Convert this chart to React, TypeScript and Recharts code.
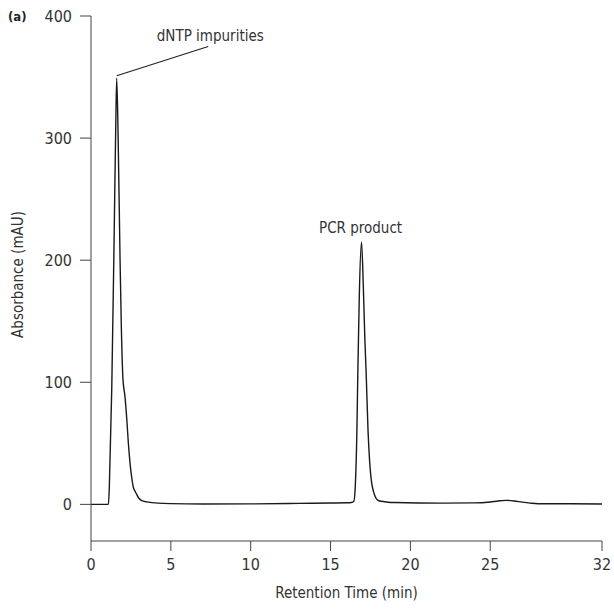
import { LineChart, Line, XAxis, YAxis, ReferenceLine, ReferenceDot, Label } from "recharts";

// retention time (min) and absorbance (mAU)
const times = [
  0, 0.5, 1.0, 1.09, 1.15, 1.3, 1.45, 1.55, 1.61, 1.7, 1.82, 1.9, 2.0, 2.13, 2.25, 2.34, 2.45, 2.55, 2.65, 2.75,
  2.87, 3.0, 3.18, 3.5, 4.0, 4.5, 5, 7, 10, 13, 15, 16, 16.3, 16.46, 16.55, 16.65, 16.71, 16.8, 16.94, 17.05,
  17.15, 17.23, 17.35, 17.45, 17.55, 17.7, 17.85, 18.02, 18.5, 19, 22, 24, 25, 25.5, 26, 26.5, 27, 27.5, 28,
  30, 32,
];
const absorbance = [
  0, 0, 0, 0, 15, 95, 220, 310, 349, 300, 200, 145, 103, 88, 68, 50, 33, 22, 14, 11,
  8, 5, 3, 2, 1.2, 0.8, 0.6, 0.3, 0.4, 0.8, 1.1, 1.3, 1.5, 2.5, 15, 60, 108, 170, 215, 180,
  135, 108, 60, 35, 20, 10, 5, 3, 2, 1.5, 1, 1.2, 2, 2.8, 3.3, 2.8, 1.8, 1, 0.5,
  0.5, 0.3,
];

const xTicks = [0, 5, 10, 15, 20, 25, 32];
const yTicks = [0, 100, 200, 300, 400];

const peakLabels = [
  { text: "dNTP impurities", x: 7.47, y: 383.6 },
  { text: "PCR product", x: 16.88, y: 226.4 },
];

const FONT = '"Liberation Sans Narrow", "DejaVu Sans Condensed", "Liberation Sans", sans-serif';
const INK = "#333";

const data = times.map((t, i) => ({ t, a: absorbance[i] }));

export default function App() {
  const tickStyle = { fill: INK, fontSize: 16, fontFamily: FONT };
  return (
    <div style={{ position: "absolute", left: 0, top: 0, width: 614, height: 613, background: "#fff" }}>
      <div style={{ position: "absolute", left: 8, top: 9, fontFamily: FONT, fontWeight: 700, fontSize: 13, color: "#222" }}>
        (a)
      </div>
      <LineChart width={614} height={613} data={data} margin={{ top: 16, right: 12, left: 0, bottom: 0 }}>
        <XAxis
          dataKey="t"
          type="number"
          domain={[0, 32]}
          ticks={xTicks}
          interval={0}
          height={72}
          tickSize={10}
          tickMargin={8}
          stroke="#444"
          tick={tickStyle}
        >
          <Label
            content={({ viewBox }: any) => (
              <text x={viewBox.x + viewBox.width / 2} y={viewBox.y + 57} textAnchor="middle" fill={INK} fontSize={15} fontFamily={FONT}>
                Retention Time (min)
              </text>
            )}
          />
        </XAxis>
        <YAxis
          type="number"
          domain={[-30, 400]}
          ticks={yTicks}
          interval={0}
          width={91}
          tickSize={11}
          tickMargin={8}
          stroke="#444"
          tick={tickStyle}
        >
          <Label
            content={({ viewBox }: any) => {
              const cx = viewBox.x + 18;
              const cy = viewBox.y + viewBox.height / 2 - 4;
              return (
                <text x={cx} y={cy} transform={`rotate(-90 ${cx} ${cy})`} textAnchor="middle" dominantBaseline="central" fill={INK} fontSize={15} fontFamily={FONT}>
                  Absorbance (mAU)
                </text>
              );
            }}
          />
        </YAxis>
        <ReferenceLine
          segment={[{ x: 1.61, y: 351 }, { x: 7.34, y: 375 }]}
          stroke="#222"
          strokeWidth={1.1}
        />
        {peakLabels.map((p) => (
          <ReferenceDot key={p.text} x={p.x} y={p.y} r={0} stroke="none" fill="none">
            <Label value={p.text} position="center" fill={INK} fontSize={15} fontFamily={FONT} />
          </ReferenceDot>
        ))}
        <Line
          type="monotone"
          dataKey="a"
          stroke="#1a1a1a"
          strokeWidth={1.4}
          dot={false}
          isAnimationActive={false}
        />
      </LineChart>
    </div>
  );
}
